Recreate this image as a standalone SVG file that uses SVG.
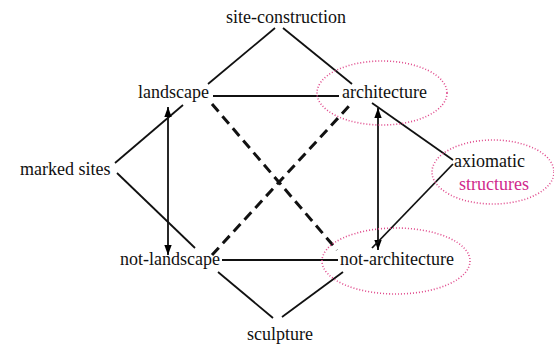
<svg xmlns="http://www.w3.org/2000/svg" width="554" height="349" viewBox="0 0 554 349">
<defs>
<marker id="ah" viewBox="0 0 10 10" refX="10" refY="5" markerWidth="10" markerHeight="10" markerUnits="userSpaceOnUse" orient="auto-start-reverse">
<path d="M0,1.3 L10,5 L0,8.7 z" fill="#000"/>
</marker>
<style>
text{font-family:"Liberation Serif","Times New Roman",serif;font-size:18px;fill:#111}
.pink{fill:#d02a8c}
.ln{stroke:#111;stroke-width:1.8;fill:none}
.dash{stroke:#111;stroke-width:3;fill:none;stroke-dasharray:10 6}
.ell{fill:none;stroke:#e04a8c;stroke-width:1.6;stroke-dasharray:1 2}
</style>
</defs>
<g id="connectors">
<line class="ln" x1="275" y1="28" x2="208" y2="84"/>
<line class="ln" x1="283" y1="28" x2="352" y2="84"/>
<line class="ln" x1="213" y1="96" x2="339" y2="96"/>
<line class="ln" x1="115" y1="163" x2="183" y2="105"/>
<line class="ln" x1="117" y1="173" x2="195" y2="248"/>
<line class="ln" x1="168" y1="107" x2="168" y2="255" marker-start="url(#ah)" marker-end="url(#ah)"/>
<line class="dash" x1="212" y1="104" x2="337" y2="250"/>
<line class="dash" x1="212" y1="255" x2="350" y2="105"/>
<line class="ln" x1="378" y1="108" x2="378" y2="250" marker-start="url(#ah)" marker-end="url(#ah)"/>
<line class="ln" x1="372" y1="103" x2="453" y2="160"/>
<line class="ln" x1="453" y1="164" x2="372" y2="248"/>
<line class="ln" x1="222" y1="260" x2="338" y2="260"/>
<line class="ln" x1="218" y1="272" x2="273" y2="318"/>
<line class="ln" x1="343" y1="272" x2="282" y2="317"/>
</g>
<g id="site-construction"><text x="286" y="23" text-anchor="middle">site-construction</text></g>
<g id="landscape"><text x="138" y="98">landscape</text></g>
<g id="architecture"><ellipse class="ell" cx="382" cy="93" rx="65" ry="32"/><text x="342" y="98">architecture</text></g>
<g id="marked-sites"><text x="20" y="175">marked sites</text></g>
<g id="axiomatic-structures"><ellipse class="ell" cx="493" cy="172" rx="61" ry="32"/><text x="454" y="167">axiomatic</text><text class="pink" x="459" y="190">structures</text></g>
<g id="not-landscape"><text x="120" y="265">not-landscape</text></g>
<g id="not-architecture"><ellipse class="ell" cx="396" cy="261" rx="74" ry="33"/><text x="340" y="265">not-architecture</text></g>
<g id="sculpture"><text x="247" y="340">sculpture</text></g>
</svg>
